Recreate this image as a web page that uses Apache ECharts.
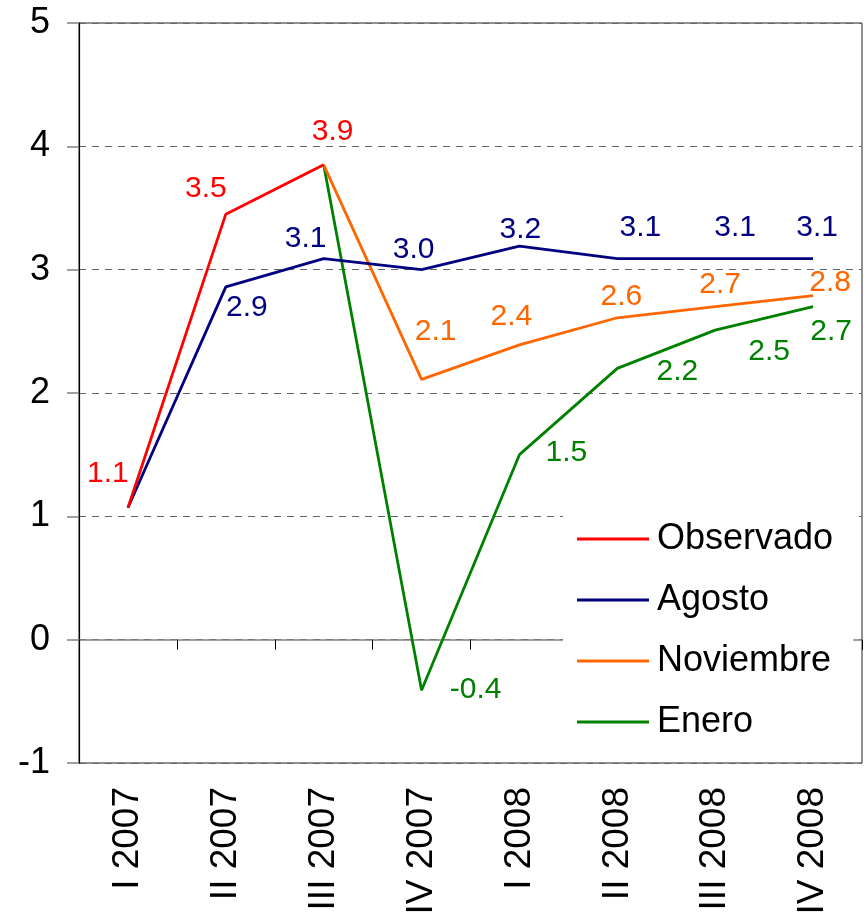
<!DOCTYPE html>
<html>
<head>
<meta charset="utf-8">
<script src="https://cdn.jsdelivr.net/npm/echarts@6/dist/echarts.min.js"></script>
<style>
  html, body { margin: 0; padding: 0; background: #fff; }
  #chart { width: 867px; height: 921px; }
</style>
</head>
<body>
<div id="chart"></div>
<script>
// trimestres
const quarters = ['I 2007', 'II 2007', 'III 2007', 'IV 2007', 'I 2008', 'II 2008', 'III 2008', 'IV 2008']

// valores
const observado = [1.07, 3.45, 3.85, null, null, null, null, null]
const agosto = [1.07, 2.86, 3.09, 3.0, 3.19, 3.09, 3.09, 3.09]
const noviembre = [null, null, 3.85, 2.11, 2.39, 2.61, 2.7, 2.79]
const enero = [null, null, 3.85, -0.41, 1.5, 2.2, 2.51, 2.7]

// desplazamiento de etiquetas (null = sin etiqueta)
const offObservado = [[-20, -34], [-20, -25], [9, -33], null, null, null, null, null]
const offAgosto = [null, [21, 21], [-18, -20], [-8, -20], [1, -16], [23, -31], [20, -31], [4, -31]]
const offNoviembre = [null, null, null, [14, -48], [-8, -28], [4, -21], [5, -22], [17, -13]]
const offEnero = [null, null, null, [54, 0], [47, -2], [60, 3], [54, 22], [18, 25]]

const FONT = 'Liberation Sans, Arial, sans-serif'

function buildData(values, offsets) {
  return values.map((v, i) => {
    const off = offsets[i]
    return {
      value: v,
      label: off ? { show: true, offset: off } : { show: false }
    }
  })
}

function makeSeries(name, values, offsets, color, z) {
  return {
    name: name,
    type: 'line',
    xAxisIndex: 0,
    data: buildData(values, offsets),
    symbol: 'circle',
    symbolSize: 0.1,
    z: z,
    itemStyle: { color: color },
    lineStyle: { color: color, width: 2.8 },
    label: {
      position: 'inside',
      color: color,
      fontSize: 30,
      fontFamily: FONT,
      formatter: (p) => (Math.round(p.value * 10 + 1e-9) / 10).toFixed(1)
    },
    emphasis: { disabled: true },
    animation: false
  }
}

const myChart = echarts.init(document.getElementById('chart'))

const option = {
  animation: false,
  grid: {
    left: 79,
    right: 5,
    top: 23,
    bottom: 158,
    show: true,
    borderColor: '#222',
    borderWidth: 1,
    backgroundColor: 'transparent'
  },
  legend: {
    orient: 'vertical',
    left: 563,
    top: 507,
    data: ['Observado', 'Agosto', 'Noviembre', 'Enero'],
    icon: 'rect',
    itemWidth: 72,
    itemHeight: 3,
    itemGap: 25,
    padding: [14, 20, 14, 14],
    backgroundColor: '#fff',
    textStyle: {
      fontSize: 36,
      lineHeight: 36,
      fontFamily: FONT,
      color: '#000',
      padding: [0, 0, 0, 3]
    }
  },
  xAxis: [
    {
      type: 'category',
      data: quarters,
      position: 'top',
      axisLine: { onZero: true, lineStyle: { color: '#808080', width: 1.5 } },
      axisTick: { show: true, inside: true, length: 10, lineStyle: { color: '#000' } },
      axisLabel: { show: false },
      splitLine: { show: false }
    },
    {
      type: 'category',
      data: quarters,
      position: 'bottom',
      axisLine: { show: false, onZero: false },
      axisTick: { show: false },
      axisLabel: {
        rotate: 90,
        margin: 24,
        fontSize: 37,
        fontFamily: FONT,
        color: '#000'
      },
      splitLine: { show: false }
    }
  ],
  yAxis: {
    type: 'value',
    min: -1,
    max: 5,
    interval: 1,
    axisLine: { show: true, lineStyle: { color: '#000', width: 1.2 } },
    axisTick: { show: true, length: 12, lineStyle: { color: '#808080', width: 1.5 } },
    axisLabel: {
      fontSize: 36,
      fontFamily: FONT,
      color: '#000',
      margin: 29
    },
    splitLine: {
      show: true,
      lineStyle: { color: '#666', type: [7, 6], width: 1 }
    }
  },
  series: [
    makeSeries('Enero', enero, offEnero, '#008000', 2),
    makeSeries('Noviembre', noviembre, offNoviembre, '#FF6600', 3),
    makeSeries('Agosto', agosto, offAgosto, '#000080', 4),
    makeSeries('Observado', observado, offObservado, '#FF0000', 5)
  ]
}

myChart.setOption(option)
</script>
</body>
</html>
